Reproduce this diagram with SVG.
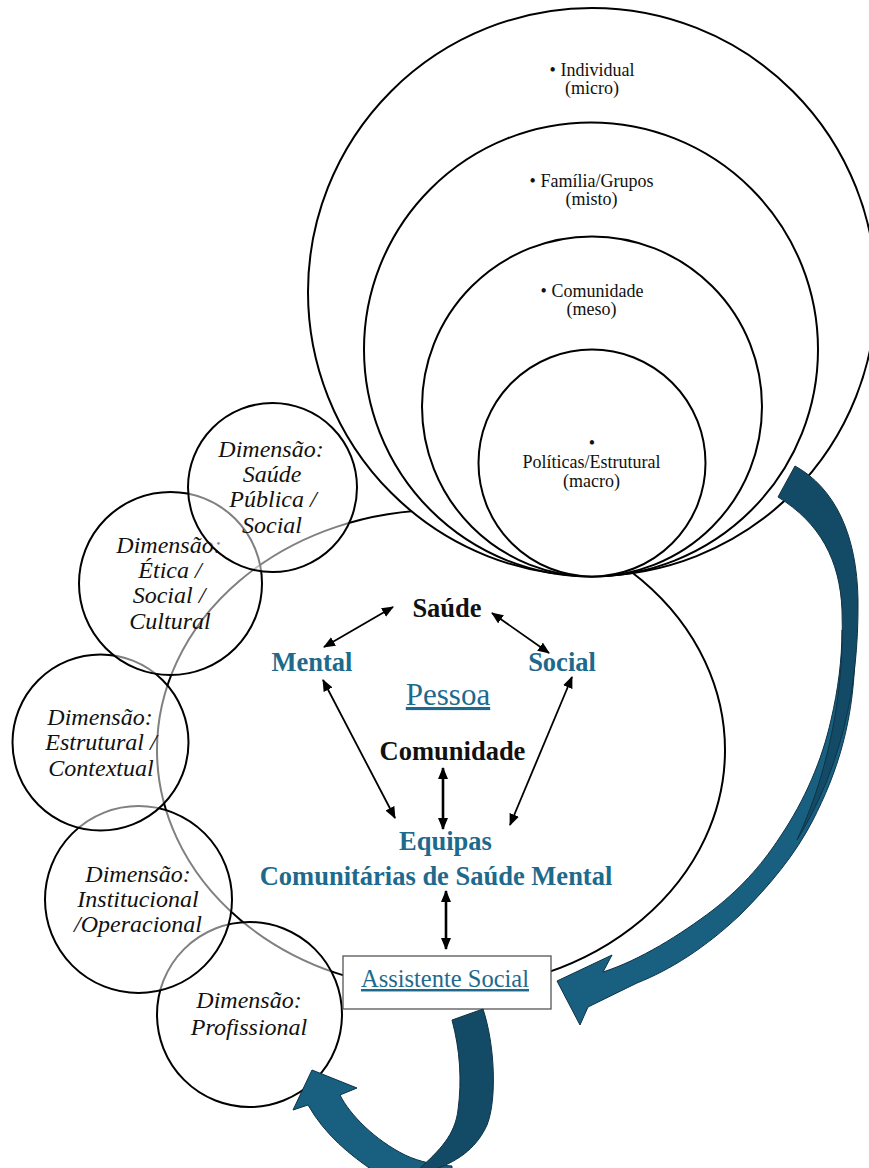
<svg xmlns="http://www.w3.org/2000/svg" width="869" height="1168" viewBox="0 0 869 1168">
<style>
text{font-family:"Liberation Serif","Times New Roman",serif;text-anchor:middle}
.lvl{font-size:18px;fill:#111}
.dim{font-size:24px;font-style:italic;fill:#111}
.big{font-size:26.5px;font-weight:bold}
.blk{fill:#111}
.blu{fill:#1d6a8d}
.ring{fill:#fff;stroke:#000;stroke-width:2}
.dc{fill:#fff;fill-opacity:0.5;stroke:#000;stroke-width:2}
.con{stroke:#000;stroke-width:1.8;fill:none}
.con2{stroke:#000;stroke-width:2.6;fill:none}
.light{fill:#185f80;stroke:#0e3347;stroke-width:1}
.dark{fill:#134b66;stroke:#0e3347;stroke-width:1}
</style>
<defs>
<marker id="ah" viewBox="0 0 12 10" refX="11" refY="5" markerWidth="12" markerHeight="10" orient="auto-start-reverse" markerUnits="userSpaceOnUse">
<path d="M0,0 L12,5 L0,10 Z" fill="#000"/>
</marker>
</defs>
<rect width="869" height="1168" fill="#fff"/>

<g id="pessoa-ring">
<ellipse cx="441" cy="750" rx="284" ry="240" fill="none" stroke="#000" stroke-width="2"/>
</g>

<g id="levels">
<circle class="ring" cx="592" cy="292" r="284"/>
<text class="lvl" x="592" y="76">• Individual</text>
<text class="lvl" x="592" y="94">(micro)</text>
<circle class="ring" cx="591" cy="349.5" r="227"/>
<text class="lvl" x="591.5" y="187">• Família/Grupos</text>
<text class="lvl" x="591.5" y="205">(misto)</text>
<circle class="ring" cx="592" cy="406.5" r="170"/>
<text class="lvl" x="592" y="297">• Comunidade</text>
<text class="lvl" x="591.5" y="315">(meso)</text>
<circle class="ring" cx="592" cy="463" r="113.5"/>
<text class="lvl" x="592" y="449">•</text>
<text class="lvl" x="591.5" y="468">Políticas/Estrutural</text>
<text class="lvl" x="591.5" y="487">(macro)</text>
</g>

<g id="dim-profissional">
<circle class="dc" cx="249.5" cy="1014.5" r="92.5"/>
<text class="dim" x="249" y="1008">Dimensão:</text>
<text class="dim" x="249" y="1035">Profissional</text>
</g>
<g id="dim-institucional">
<circle class="dc" cx="138.5" cy="899.5" r="93.5"/>
<text class="dim" x="138" y="882">Dimensão:</text>
<text class="dim" x="138" y="907">Institucional</text>
<text class="dim" x="138" y="932">/Operacional</text>
</g>
<g id="dim-estrutural">
<circle class="dc" cx="100.5" cy="742.5" r="88"/>
<text class="dim" x="100" y="725">Dimensão:</text>
<text class="dim" x="101" y="750">Estrutural /</text>
<text class="dim" x="101" y="776">Contextual</text>
</g>
<g id="dim-etica">
<circle class="dc" cx="170.5" cy="583.5" r="91.5"/>
<text class="dim" x="169" y="553">Dimensão:</text>
<text class="dim" x="170" y="578">Ética /</text>
<text class="dim" x="169" y="603">Social /</text>
<text class="dim" x="170" y="629">Cultural</text>
</g>
<g id="dim-saude-publica">
<circle class="dc" cx="272.5" cy="487.5" r="84.5"/>
<text class="dim" x="271" y="457">Dimensão:</text>
<text class="dim" x="272" y="482">Saúde</text>
<text class="dim" x="273" y="507">Pública /</text>
<text class="dim" x="272" y="533">Social</text>
</g>

<g id="saude"><text class="big blk" x="447" y="617">Saúde</text></g>
<g id="mental"><text class="big blu" x="312" y="671">Mental</text></g>
<g id="social"><text class="big blu" x="562" y="671">Social</text></g>
<g id="pessoa"><text class="blu" x="448" y="705" font-size="31" text-decoration="underline">Pessoa</text></g>
<g id="comunidade"><text class="big blk" x="452.5" y="760">Comunidade</text></g>
<g id="equipas">
<text class="big blu" x="445.5" y="850">Equipas</text>
<text class="big blu" x="436" y="885">Comunitárias de Saúde Mental</text>
</g>
<g id="assistente">
<rect x="343" y="956" width="208" height="53" fill="#fff" stroke="#555" stroke-width="1.3"/>
<text class="blu" x="445" y="987" font-size="24.5" text-decoration="underline">Assistente Social</text>
</g>

<g id="connectors">
<line class="con" x1="393" y1="607" x2="324" y2="647" marker-start="url(#ah)" marker-end="url(#ah)"/>
<line class="con" x1="492" y1="613" x2="549" y2="653" marker-start="url(#ah)" marker-end="url(#ah)"/>
<line class="con" x1="323" y1="680" x2="395" y2="818" marker-start="url(#ah)" marker-end="url(#ah)"/>
<line class="con" x1="572" y1="677" x2="510" y2="825" marker-start="url(#ah)" marker-end="url(#ah)"/>
<line class="con2" x1="443" y1="768" x2="443" y2="829" marker-start="url(#ah)" marker-end="url(#ah)"/>
<line class="con2" x1="446" y1="891" x2="446" y2="949" marker-start="url(#ah)" marker-end="url(#ah)"/>

<g id="arrow-right">
<path class="light" d="M855,640 C856,720 836,775 813,820 C795,855 770,885 740,915 C705,948 670,970 637,983 L588,1007 L580,1025 L557,981 L612,955 L603,972 C640,960 680,935 713,910 C745,885 765,860 780,837 C805,800 822,760 831,720 C838,690 842,660 842,630 Z"/>
<path class="dark" d="M795,466 C835,488 857,535 858,600 C859,690 840,770 797,840 C825,780 845,700 842,610 C840,560 820,523 778,497 Z"/>
</g>
<g id="arrow-bottom">
<path class="light" d="M308,1105 L293,1110 L312,1070 L357,1088 L340,1095 C350,1115 375,1140 405,1155 C420,1162 435,1165 452,1166 L452,1172 L375,1172 C350,1155 325,1135 308,1105 Z"/>
<path class="dark" d="M452,1020 L483,1009 C495,1045 497,1100 487,1125 C478,1145 462,1160 433,1170 L418,1170 C440,1150 455,1135 458,1110 C462,1080 460,1050 452,1020 Z"/>
</g>
</g>
</svg>
